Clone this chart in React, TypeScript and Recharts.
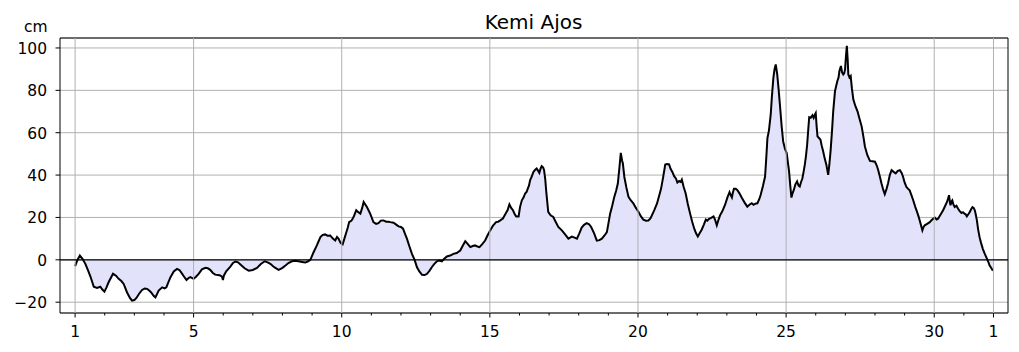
import React from "react";
import { ComposedChart, Area, XAxis, YAxis, CartesianGrid, ReferenceLine, ReferenceArea } from "recharts";

const days: number[] = [
  1.00, 1.08, 1.16, 1.25, 1.35, 1.45, 1.52, 1.63, 1.74, 1.85, 1.92, 1.99, 2.06, 2.13, 2.28, 2.38, 2.47, 2.56, 2.64, 2.75,
  2.85, 2.92, 3.00, 3.07, 3.16, 3.26, 3.35, 3.43, 3.50, 3.56, 3.65, 3.71, 3.77, 3.82, 3.94, 4.02, 4.08, 4.15, 4.22, 4.33,
  4.44, 4.52, 4.58, 4.68, 4.76, 4.84, 4.89, 5.00, 5.08, 5.17, 5.28, 5.40, 5.48, 5.56, 5.65, 5.73, 5.82, 5.90, 5.96, 5.99,
  6.02, 6.10, 6.24, 6.33, 6.41, 6.50, 6.58, 6.72, 6.86, 7.00, 7.14, 7.27, 7.40, 7.50, 7.59, 7.72, 7.87, 8.00, 8.10, 8.20,
  8.32, 8.43, 8.54, 8.66, 8.77, 8.85, 8.94, 9.05, 9.16, 9.28, 9.36, 9.44, 9.52, 9.61, 9.70, 9.78, 9.84, 9.89, 9.96, 10.03,
  10.09, 10.14, 10.20, 10.25, 10.33, 10.40, 10.49, 10.56, 10.63, 10.69, 10.74, 10.80, 10.85, 10.96, 11.07, 11.16, 11.24, 11.32, 11.41, 11.50,
  11.58, 11.64, 11.75, 11.85, 11.92, 12.00, 12.07, 12.13, 12.20, 12.28, 12.37, 12.46, 12.54, 12.62, 12.71, 12.80, 12.88, 12.96, 13.04, 13.12,
  13.21, 13.30, 13.38, 13.46, 13.55, 13.66, 13.77, 13.88, 14.00, 14.08, 14.17, 14.25, 14.34, 14.42, 14.50, 14.58, 14.65, 14.75, 14.84, 14.92,
  15.01, 15.10, 15.21, 15.28, 15.35, 15.44, 15.52, 15.60, 15.66, 15.72, 15.78, 15.84, 15.89, 15.97, 16.02, 16.08, 16.14, 16.19, 16.24, 16.28,
  16.32, 16.36, 16.42, 16.47, 16.53, 16.58, 16.63, 16.67, 16.71, 16.75, 16.80, 16.83, 16.87, 16.90, 16.94, 16.97, 17.05, 17.14, 17.22, 17.31,
  17.43, 17.54, 17.65, 17.71, 17.77, 17.86, 17.94, 18.02, 18.10, 18.18, 18.27, 18.35, 18.42, 18.52, 18.61, 18.70, 18.78, 18.87, 18.95, 19.00,
  19.06, 19.13, 19.20, 19.26, 19.32, 19.37, 19.42, 19.46, 19.49, 19.54, 19.61, 19.68, 19.76, 19.85, 19.93, 20.02, 20.10, 20.18, 20.27, 20.35,
  20.42, 20.47, 20.55, 20.64, 20.71, 20.78, 20.85, 20.92, 20.98, 21.05, 21.10, 21.16, 21.22, 21.28, 21.33, 21.39, 21.44, 21.48, 21.54, 21.61,
  21.68, 21.76, 21.83, 21.90, 21.96, 22.02, 22.08, 22.15, 22.22, 22.29, 22.34, 22.40, 22.47, 22.55, 22.60, 22.66, 22.72, 22.77, 22.85, 22.94,
  23.02, 23.09, 23.13, 23.17, 23.20, 23.24, 23.30, 23.35, 23.42, 23.50, 23.60, 23.69, 23.76, 23.84, 23.90, 23.96, 24.03, 24.09, 24.14, 24.22,
  24.29, 24.33, 24.37, 24.42, 24.48, 24.52, 24.57, 24.61, 24.65, 24.70, 24.75, 24.79, 24.85, 24.90, 24.96, 25.02, 25.06, 25.10, 25.14, 25.18,
  25.22, 25.26, 25.31, 25.37, 25.42, 25.46, 25.50, 25.55, 25.59, 25.63, 25.67, 25.71, 25.75, 25.78, 25.83, 25.89, 25.93, 25.97, 26.00, 26.03,
  26.06, 26.11, 26.16, 26.20, 26.25, 26.30, 26.36, 26.42, 26.46, 26.50, 26.55, 26.59, 26.65, 26.69, 26.73, 26.77, 26.80, 26.85, 26.89, 26.93,
  26.96, 26.99, 27.02, 27.05, 27.08, 27.10, 27.14, 27.18, 27.22, 27.27, 27.34, 27.41, 27.48, 27.55, 27.61, 27.66, 27.74, 27.83, 27.91, 28.00,
  28.06, 28.11, 28.17, 28.22, 28.28, 28.33, 28.39, 28.44, 28.50, 28.56, 28.63, 28.70, 28.77, 28.84, 28.90, 28.95, 29.00, 29.06, 29.12, 29.17,
  29.23, 29.29, 29.36, 29.42, 29.47, 29.51, 29.56, 29.60, 29.64, 29.68, 29.76, 29.85, 29.93, 30.02, 30.08, 30.13, 30.20, 30.30, 30.37, 30.43,
  30.47, 30.50, 30.53, 30.55, 30.58, 30.61, 30.65, 30.69, 30.75, 30.80, 30.86, 30.92, 30.97, 31.02, 31.06, 31.10, 31.15, 31.20, 31.25, 31.29,
  31.33, 31.37, 31.40, 31.44, 31.48, 31.53, 31.58, 31.64, 31.70, 31.76, 31.82, 31.87, 31.93, 31.98,
];

const levels: number[] = [
  -3, 0, 2, 0.5, -2, -5.5, -8, -12.7, -13.3, -12.7, -14, -15, -13, -10.6, -6.6, -7.5, -9, -10, -11.4, -15.3,
  -18, -19.3, -19, -18, -16, -14.2, -13.5, -13.7, -14.5, -15.3, -17, -17.7, -16, -14.5, -13, -13.5, -13, -10.5, -8.2, -5.5,
  -4.3, -4.8, -5.9, -8, -9.5, -8.5, -8.2, -9, -8, -6.6, -4.5, -3.8, -4, -4.7, -6.2, -7, -7.2, -7.4, -8, -9.5,
  -7.5, -5.4, -3.2, -1.5, -0.8, -1.2, -2.2, -4, -5.1, -4.8, -3.8, -2, -0.7, -1.2, -1.9, -3.5, -4.7, -3.8, -2.7, -1.5,
  -0.7, -0.5, -0.7, -1, -1.3, -0.8, 0, 3.6, 6.8, 10.7, 11.8, 12, 11.4, 11.5, 10, 9.1, 10.8, 10, 8, 7.3,
  10, 12.3, 15, 17.8, 18.5, 20.2, 23.4, 22.5, 21.8, 24.5, 27.3, 26, 24.9, 21.8, 17.8, 17, 17.3, 18.5, 18.6, 18,
  18, 17.8, 17.5, 16.5, 15.8, 15.5, 14.7, 12.5, 10, 6.5, 2.8, 0, -3.5, -5.5, -7.1, -7.2, -6.6, -5.2, -3.5, -2,
  -0.7, -0.3, -0.7, 0.5, 1.6, 2, 2.8, 3.2, 4.4, 6.5, 8.8, 7.5, 6, 6.5, 6.8, 6.3, 6, 7.5, 9.1, 11.5,
  13.9, 16, 17.8, 18, 18.6, 19.5, 21.5, 23.5, 26.2, 24.5, 23.4, 21.5, 20.5, 20.5, 25, 28.1, 29.5, 31.3, 32, 33.6,
  35, 37.6, 39.5, 41.5, 42.5, 43.1, 42, 41, 43, 44.2, 43.5, 42.3, 38, 32.8, 27, 22.6, 21, 20.2, 18, 15.5,
  13.9, 12, 10, 10.5, 11, 10.5, 10, 12.5, 15.2, 16.5, 17.3, 16.8, 15.5, 12.5, 9.1, 9.3, 10, 11.5, 13.1, 17,
  21.8, 25.5, 29.7, 32.5, 36, 43, 50.5, 47, 45.5, 39.1, 34, 29.7, 28, 26.5, 24.5, 22.6, 20.5, 19, 18.5, 18.6,
  19.5, 21, 23.5, 26.5, 30, 33.6, 39, 45, 45.2, 45, 43, 41.5, 39.5, 38.4, 36.5, 37.2, 36.8, 37.9, 34.5, 31.3,
  26.5, 21.8, 18, 14.7, 12.5, 11, 12.5, 14.2, 16.5, 19, 18.5, 19.4, 19.8, 20.5, 19, 16.3, 19, 21, 23, 26,
  29.5, 31.9, 30.5, 29.4, 31.5, 33.5, 33.5, 33, 31.5, 29.4, 27, 25.1, 26, 26.7, 26, 26.5, 26.7, 28.5, 30.6, 35,
  39.3, 48, 57.5, 61, 68.5, 77, 85.9, 90, 92.2, 87.5, 80, 73.3, 63, 55.9, 52.5, 50.4, 46, 41.7, 35, 29.4,
  31.5, 33, 35.5, 37, 35, 34.6, 36.5, 38.5, 41.5, 44.8, 49, 54.3, 62, 67.3, 67, 68.2, 67, 68.5, 69.3, 63,
  58.3, 57.5, 56.7, 54, 51.2, 48, 44.8, 40.1, 45, 51.2, 61, 70.1, 79.6, 82, 84.4, 86, 89.1, 91.5, 88.5, 87.5,
  88, 89.9, 96, 101, 94, 87.5, 86, 86.7, 81, 75.6, 72.5, 70.1, 66.5, 63, 58, 53.5, 49.5, 46.7, 46.5, 46.3,
  44.5, 42.3, 39, 36, 33, 31, 33.5, 36, 40, 42.3, 41.5, 40.8, 42, 42.3, 41, 39.1, 36.5, 34.4, 33.5, 32.8,
  30.5, 28.1, 25, 22.6, 20.5, 18.6, 16, 13.9, 15.5, 16.3, 17, 17.8, 19, 19.9, 19, 19.4, 21, 23.4, 25.5, 27.3,
  29, 30.5, 27, 25.7, 27.5, 28.1, 26, 24.9, 25.5, 24.2, 23, 22.1, 22.5, 21.8, 21.5, 20.5, 21.5, 22.6, 24, 24.9,
  24.5, 23.4, 21.5, 18.6, 14.5, 10.7, 8, 5.2, 3, 1.2, -0.8, -2.7, -4, -5.1,
];

const dayTicks: number[] = Array.from({ length: 32 }, (_, i) => i + 1);
const majorDays: number[] = [1, 5, 10, 15, 20, 25, 30, 32];
const majorLabels: string[] = ["1", "5", "10", "15", "20", "25", "30", "1"];
const yTicks: number[] = [-20, 0, 20, 40, 60, 80, 100];
const xDomain: [number, number] = [0.49, 32.49];
const yDomain: [number, number] = [-25.1, 104.7];

const data = days.map((d, i) => ({ day: d, level: levels[i] }));

const FONT = "'DejaVu Sans', sans-serif";

const XTick = (props: any) => {
  const { x, y, payload } = props;
  const d = payload.value;
  const idx = majorDays.indexOf(d);
  const major = idx >= 0;
  return (
    <g>
      <line x1={x} x2={x} y1={y} y2={y + (major ? 4.5 : 2.5)} stroke="#000" strokeWidth={1} />
      {major && (
        <text x={x} y={y + 24} textAnchor="middle" fontSize={15.5} fill="#000" fontFamily={FONT}>
          {majorLabels[idx]}
        </text>
      )}
    </g>
  );
};

const YTick = (props: any) => {
  const { x, y, payload } = props;
  const v = payload.value;
  const label = v < 0 ? "\u2212" + Math.abs(v) : String(v);
  return (
    <g>
      <line x1={x - 4.5} x2={x} y1={y} y2={y} stroke="#000" strokeWidth={1} />
      <text x={x - 13} y={y + 6} textAnchor="end" fontSize={15.5} fill="#000" fontFamily={FONT}>
        {label}
      </text>
    </g>
  );
};

export default function App() {
  return (
    <div style={{ position: "relative", width: 1003, height: 336 }}>
      <ComposedChart
        width={1003}
        height={336}
        data={data}
        margin={{ top: 30, right: 3, bottom: 0, left: 0 }}
      >
        <CartesianGrid vertical={false} stroke="#b0b0b0" strokeWidth={1} />
        <XAxis
          dataKey="day"
          type="number"
          domain={xDomain}
          ticks={dayTicks}
          interval={0}
          allowDataOverflow
          axisLine={false}
          tickLine={false}
          tickSize={0}
          tickMargin={0}
          height={31}
          tick={<XTick />}
        />
        <YAxis
          type="number"
          domain={yDomain}
          ticks={yTicks}
          interval={0}
          allowDataOverflow
          axisLine={false}
          tickLine={false}
          tickSize={0}
          tickMargin={0}
          width={52}
          tick={<YTick />}
        />
        {majorDays.map((d) => (
          <ReferenceLine key={d} x={d} stroke="#b0b0b0" strokeWidth={1} />
        ))}
        <Area
          type="linear"
          dataKey="level"
          baseValue={0}
          stroke="#000"
          strokeWidth={2}
          fill="#e2e2fa"
          fillOpacity={1}
          dot={false}
          activeDot={false}
          isAnimationActive={false}
        />
        <ReferenceLine y={0} stroke="#000" strokeWidth={1.2} />
        <ReferenceArea
          x1={xDomain[0]}
          x2={xDomain[1]}
          y1={yDomain[0]}
          y2={yDomain[1]}
          fill="none"
          fillOpacity={0}
          stroke="#000"
          strokeWidth={1}
        />
      </ComposedChart>
      <svg
        width={1003}
        height={336}
        style={{ position: "absolute", left: 0, top: 0, pointerEvents: "none" }}
      >
        <text x={525.5} y={20.5} textAnchor="middle" fontSize={20} fill="#000" fontFamily={FONT}>
          Kemi Ajos
        </text>
        <text x={39.5} y={24.3} textAnchor="end" fontSize={15.5} fill="#000" fontFamily={FONT}>
          cm
        </text>
      </svg>
    </div>
  );
}
